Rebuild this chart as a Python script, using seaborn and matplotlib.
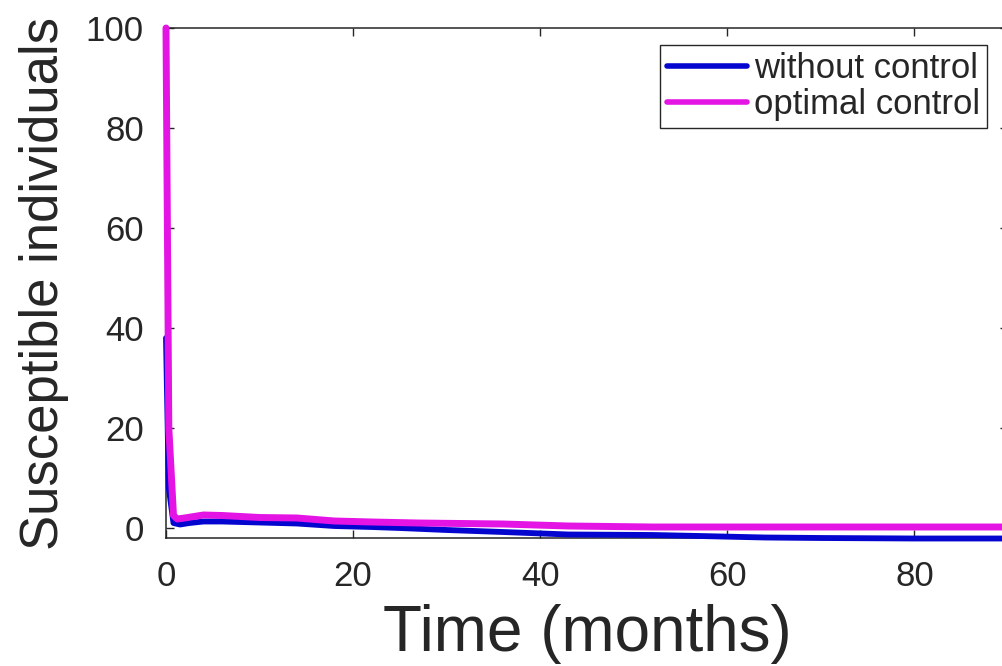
import matplotlib
matplotlib.use("Agg")
import matplotlib.pyplot as plt
import seaborn as sns
import pandas as pd

# ---- data ----
t_without = [0, 0.3, 0.8, 1.5, 2.5, 4, 6, 10, 14, 18, 22, 25, 30, 36, 43, 52, 57, 64, 70, 80, 90]
s_without = [38, 8, 1.0, 0.7, 1.0, 1.3, 1.3, 1.1, 0.9, 0.4, 0.2, 0.0, -0.4, -0.8, -1.3, -1.4, -1.6, -1.9, -2.0, -2.1, -2.1]

t_optimal = [0, 0.3, 0.8, 1.2, 2, 4, 6, 10, 14, 18, 22, 27, 36, 43, 52, 70, 90]
s_optimal = [100, 20, 2.5, 1.8, 2.0, 2.6, 2.5, 2.1, 2.0, 1.4, 1.2, 1.0, 0.8, 0.4, 0.2, 0.2, 0.2]

series_labels = ["without control", "optimal control"]
x_ticks = [0, 20, 40, 60, 80]
y_ticks = [0, 20, 40, 60, 80, 100]

sns.set_theme(style="white")
plt.rcParams["font.family"] = ["Liberation Sans", "DejaVu Sans"]

fig = plt.figure(figsize=(10.02, 6.66), dpi=100)
W, H = 1002, 666
ax = fig.add_axes([166 / W, 128 / H, (1008 - 166) / W, 510 / H])

df_w = pd.DataFrame({"t": t_without, "s": s_without})
df_o = pd.DataFrame({"t": t_optimal, "s": s_optimal})

sns.lineplot(data=df_w, x="t", y="s", ax=ax, color="#0505d0", linewidth=4.2,
             label=series_labels[0], estimator=None, sort=False, clip_on=False, zorder=3)
sns.lineplot(data=df_o, x="t", y="s", ax=ax, color="#e414e4", linewidth=5.0,
             label=series_labels[1], estimator=None, sort=False, clip_on=False, zorder=4)

ax.set_xlim(0, 90)
ax.set_ylim(-2, 100)
ax.set_xticks(x_ticks)
ax.set_yticks(y_ticks)

edge = "#262626"
for sp in ax.spines.values():
    sp.set_visible(True)
    sp.set_color(edge)
    sp.set_linewidth(1.1)

ax.tick_params(axis="both", which="major", direction="in", length=6, width=1.0,
               color=edge, top=True, right=True, bottom=True, left=True,
               labelsize=25, labelcolor="#262626")
ax.tick_params(axis="x", pad=16)
ax.tick_params(axis="y", pad=16)

ax.set_xlabel("Time (months)", fontsize=46, color="#262626", labelpad=8)
ax.set_ylabel("Susceptible individuals", fontsize=38, color="#262626", labelpad=12)

leg = ax.legend(loc="upper right", bbox_to_anchor=(987 / W, 1 - 45 / H),
                bbox_transform=fig.transFigure, borderaxespad=0,
                fontsize=25, frameon=True, fancybox=False, framealpha=1,
                handlelength=2.3, handletextpad=0.2, labelspacing=0.1,
                borderpad=0.2)
leg.get_frame().set_edgecolor(edge)
leg.get_frame().set_linewidth(1.0)
for line in leg.get_lines():
    line.set_linewidth(4)

fig.savefig("out.png", dpi=100)
